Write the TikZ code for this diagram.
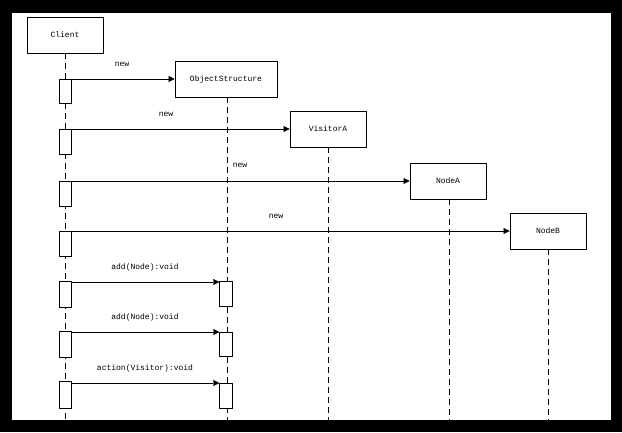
\documentclass[tikz,border=0pt]{standalone}
\usepackage{fontspec}
\setmainfont{Liberation Mono}
\usetikzlibrary{arrows.meta}
\begin{document}
\begin{tikzpicture}[x=1pt,y=-1pt,
  obj/.style={draw,thick,fill=white,minimum width=76pt,minimum height=36pt,inner sep=0pt,font=\fontsize{8}{9}\selectfont},
  act/.style={draw,fill=white,minimum width=12pt,inner sep=0pt},
  life/.style={dash pattern=on 6pt off 4pt},
  msg/.style={-{Triangle[length=6pt,width=6pt]}},
  lbl/.style={font=\fontsize{8}{9}\selectfont,inner sep=0pt}]
\fill[black] (0,0) rectangle (622,432);
\fill[white] (12,13) rectangle (611,420);
\useasboundingbox (0,0) rectangle (622,432);
\draw[life] (65,53) -- (65,420);
\draw[life] (227,97) -- (227,420);
\draw[life] (328,147) -- (328,420);
\draw[life] (449,199) -- (449,420);
\draw[life] (548,249) -- (548,420);
\node[obj] (client) at (65,35) {Client};
\node[obj,minimum width=102pt] (os) at (226,79) {ObjectStructure};
\node[obj] (va) at (328,129) {VisitorA};
\node[obj] (na) at (448,181) {NodeA};
\node[obj] (nb) at (548,231) {NodeB};
\foreach \n/\a/\b in {c1/79/103,c2/129/154,c3/181/206,c4/231/256,c5/281/307,c6/331/357,c7/381/408}
  \node[act,minimum height=\b-\a] (\n) at (65,{(\a+\b)/2}) {};
\foreach \n/\a/\b in {t5/281/306,t6/332/356,t7/383/408}
  \node[act,minimum height=\b-\a,minimum width=13pt] (\n) at (226,{(\a+\b)/2}) {};
\coordinate (s1) at (71,79); \draw[msg] (s1) -- (os.west |- s1);
\coordinate (s2) at (71,129); \draw[msg] (s2) -- (va.west |- s2);
\coordinate (s3) at (71,181); \draw[msg] (s3) -- (na.west |- s3);
\coordinate (s4) at (71,231); \draw[msg] (s4) -- (nb.west |- s4);
\coordinate (s5) at (71,282); \draw[msg] (s5) -- (t5.west |- s5);
\coordinate (s6) at (71,332); \draw[msg] (s6) -- (t6.west |- s6);
\coordinate (s7) at (71,383); \draw[msg] (s7) -- (t7.west |- s7);
\node[lbl] (l1) at (122,64) {new};
\node[lbl] (l2) at (166,114) {new};
\node[lbl] (l3) at (240,165) {new};
\node[lbl] (l4) at (276,216) {new};
\node[lbl] (l5) at (145,267) {add(Node):void};
\node[lbl] (l6) at (145,317) {add(Node):void};
\node[lbl] (l7) at (145,368) {action(Visitor):void};
\end{tikzpicture}
\end{document}
